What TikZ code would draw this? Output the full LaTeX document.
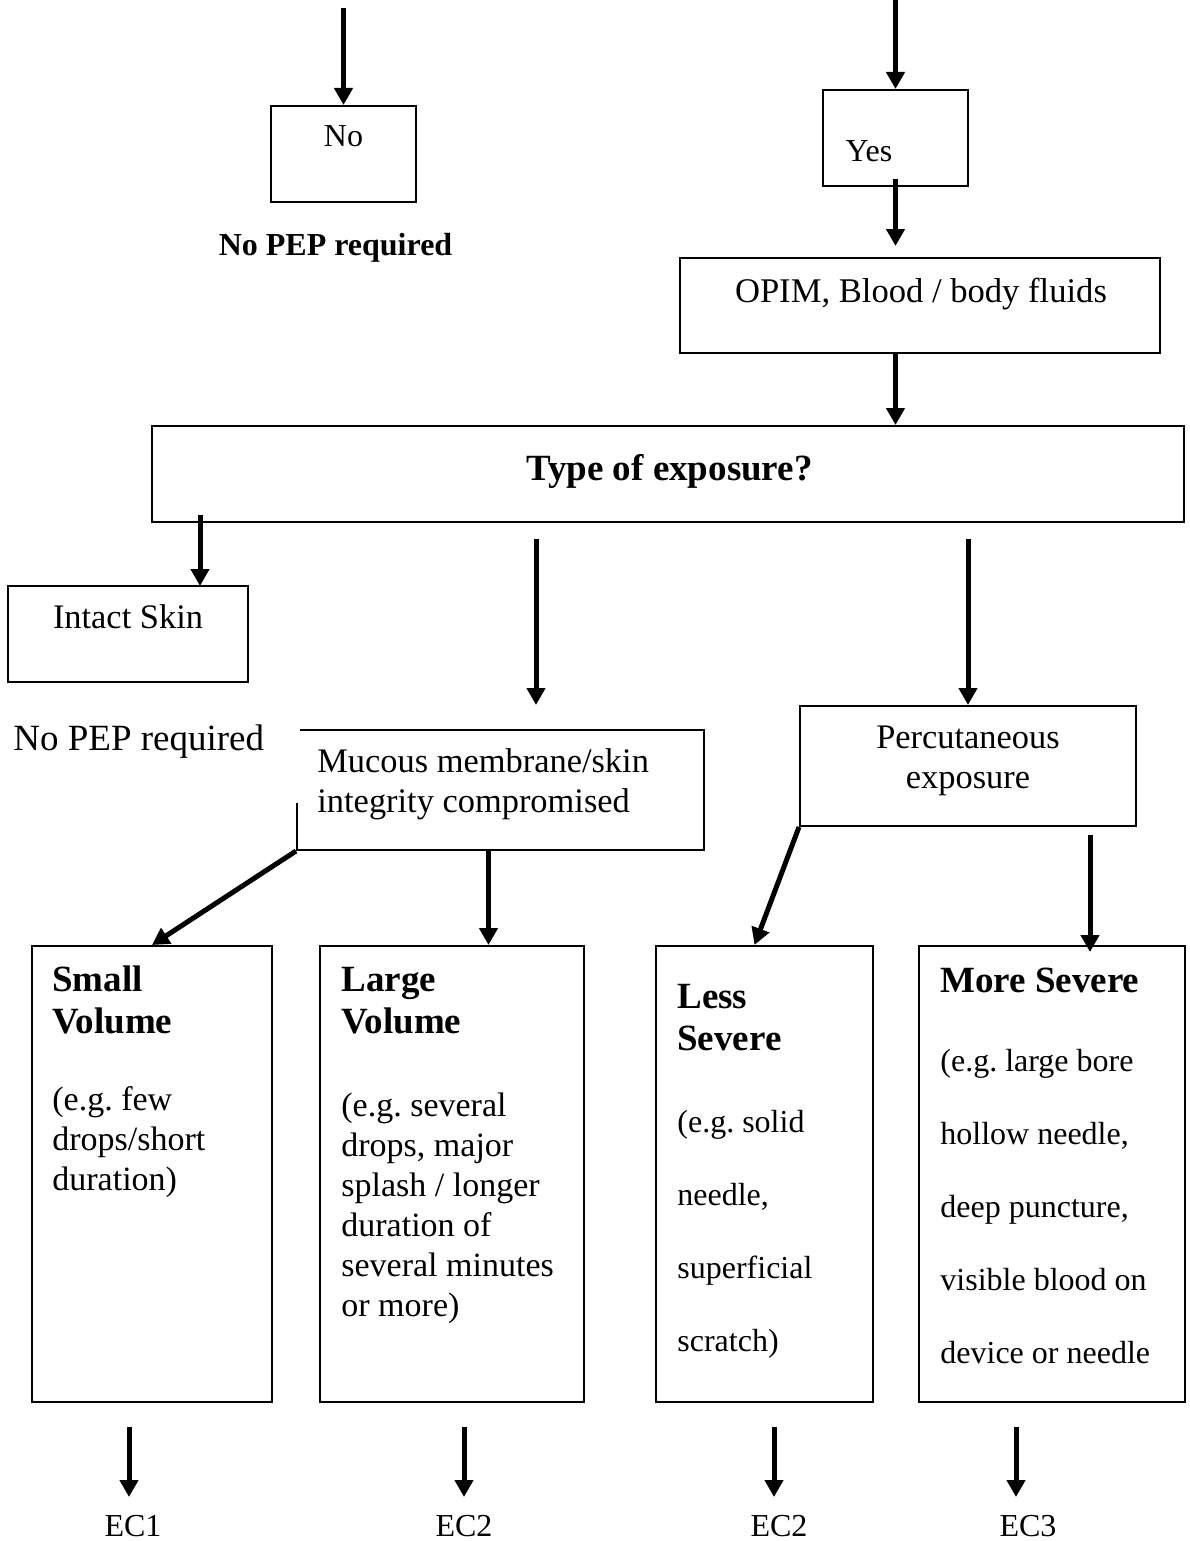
\documentclass[tikz,border=0pt]{standalone}
\usepackage{fontspec}
\setmainfont{Liberation Serif}
\usetikzlibrary{arrows.meta}
\frenchspacing

\begin{document}
\begin{tikzpicture}
  [x=0.5pt,y=-0.5pt,
   box/.style={draw,line width=1pt,inner sep=0pt},
   px/.style 2 args={minimum width=#1*0.5pt,minimum height=#2*0.5pt},
   lbl/.style={inner sep=0pt,font=\fontsize{16}{20}\selectfont},
   mid/.style={font=\fontsize{17.2}{20}\selectfont},
   head/.style={font=\bfseries\fontsize{18.5}{22}\selectfont},
   flow/.style={line width=2.5pt,-{Triangle[length=8.5pt,width=9pt]}}]
  \useasboundingbox (0,0) rectangle (1189,1541);

  % top: no / yes
  \coordinate (in-no) at (343.5,8);
  \coordinate (in-yes) at (895.5,0);
  \node[box,px={145}{96}] (no) at (343.5,154) {};
  \node[lbl,anchor=base] (no-t) at (343.5,147) {No};
  \node[lbl,font=\bfseries\fontsize{16}{20}\selectfont,anchor=base] (nopep) at (335.5,255) {No PEP required};
  \node[box,px={145}{96}] (yes) at (895.5,138) {};
  \node[lbl,anchor=base] (yes-t) at (869,162) {Yes};
  \node[box,px={480}{95}] (opim) at (920,305.5) {};
  \node[lbl,mid,font=\fontsize{17.3}{20}\selectfont,anchor=base] (opim-t) at (921,302) {OPIM, Blood / body fluids};

  % type of exposure
  \node[box,px={1032}{96}] (type) at (668,474) {};
  \node[lbl,font=\bfseries\fontsize{18.5}{22}\selectfont,anchor=base] (type-t) at (669.5,480) {Type of exposure?};
  \node[box,px={240}{96}] (intact) at (128,634) {};
  \node[lbl,mid,anchor=base] (intact-t) at (128,628) {Intact Skin};
  \node[box,px={407}{120}] (mucous) at (500.5,790) {};
  \node[lbl,mid,anchor=base west] (mucous-1) at (317,772) {Mucous membrane/skin};
  \node[lbl,mid,anchor=base west] (mucous-2) at (317,812) {integrity compromised};
  \node[lbl,font=\fontsize{18.5}{22}\selectfont,fill=white,anchor=base west,align=flush left,
        inner xsep=2.5pt,text width=141pt,text height=19pt,text depth=26.5pt] (nopep-skin) at (8,750) {No PEP required};
  \node[box,px={336}{120}] (perc) at (968,766) {};
  \node[lbl,mid,anchor=base] (perc-1) at (968,748) {Percutaneous};
  \node[lbl,mid,anchor=base] (perc-2) at (968,788) {exposure};

  % bottom boxes
  \node[box,px={240}{456}] (small) at (152,1174) {};
  \node[box,px={264}{456}] (large) at (452,1174) {};
  \node[box,px={217}{456}] (less) at (764.5,1174) {};
  \node[box,px={266}{456}] (more) at (1052,1174) {};

  \foreach \t [count=\i] in {Small,Volume}
    \node[lbl,head,anchor=base west] (small-h\i) at (52,949+42*\i) {\t};
  \foreach \t [count=\i] in {{(e.g. few},{drops/short},{duration)}}
    \node[lbl,font=\fontsize{17}{20}\selectfont,anchor=base west] (small-\i) at (52,1070+40*\i) {\t};
  \foreach \t [count=\i] in {Large,Volume}
    \node[lbl,head,anchor=base west] (large-h\i) at (341,949+42*\i) {\t};
  \foreach \t [count=\i] in {{(e.g. several},{drops, major},{splash / longer},{duration of},{several minutes},{or more)}}
    \node[lbl,font=\fontsize{17}{20}\selectfont,anchor=base west] (large-\i) at (341,1076+40*\i) {\t};
  \foreach \t [count=\i] in {Less,Severe}
    \node[lbl,head,anchor=base west] (less-h\i) at (677,966+42*\i) {\t};
  \foreach \t [count=\i] in {{(e.g. solid},{needle,},{superficial},{scratch)}}
    \node[lbl,anchor=base west] (less-\i) at (677,1059+73*\i) {\t};
  \node[lbl,head,anchor=base west] (more-h1) at (940,992) {More Severe};
  \foreach \t [count=\i] in {{(e.g. large bore},{hollow needle,},{deep puncture,},{visible blood on},{device or needle}}
    \node[lbl,anchor=base west] (more-\i) at (940,998+73*\i) {\t};

  % connectors
  \coordinate (skinin) at (200,586);
  \coordinate (mucin) at (536,705);
  \coordinate (sevin) at (1090,952);
  \draw[flow] (in-no) -- (no.north);
  \draw[flow] (in-yes) -- (yes.north);
  \draw[flow] ([yshift=4pt]yes.south) -- ([yshift=5.5pt]yes.south |- opim.north);
  \draw[flow] (yes.south |- opim.south) -- (yes.south |- type.north);
  \draw[flow] ([yshift=4pt]type.south -| skinin) -- (skinin);
  \draw[flow] ([yshift=-8pt]type.south -| mucin) -- (mucin);
  \draw[flow] ([yshift=-8pt]type.south -| perc.north) -- (perc.north);
  \draw[flow] (mucous.south west) -- (small.north);
  \draw[flow] ([xshift=-6pt]mucous.south) -- ([xshift=-6pt]mucous.south |- large.north);
  \draw[flow] (perc.south west) -- ([xshift=-5pt]less.north);
  \draw[flow] ([yshift=-4pt]perc.south -| sevin) -- (sevin);

  \foreach \b/\ax/\lx/\ec in {small/129/133/EC1,large/464/464/EC2,less/774/779/EC2,more/1016/1028/EC3}
  {
    \node[lbl,anchor=base] (ec-\b) at (\lx,1536) {\ec};
    \coordinate (tip-\b) at (\ax,1497);
    \draw[flow] ([yshift=-12pt]\b.south -| tip-\b) -- (tip-\b);
  }
\end{tikzpicture}
\end{document}
